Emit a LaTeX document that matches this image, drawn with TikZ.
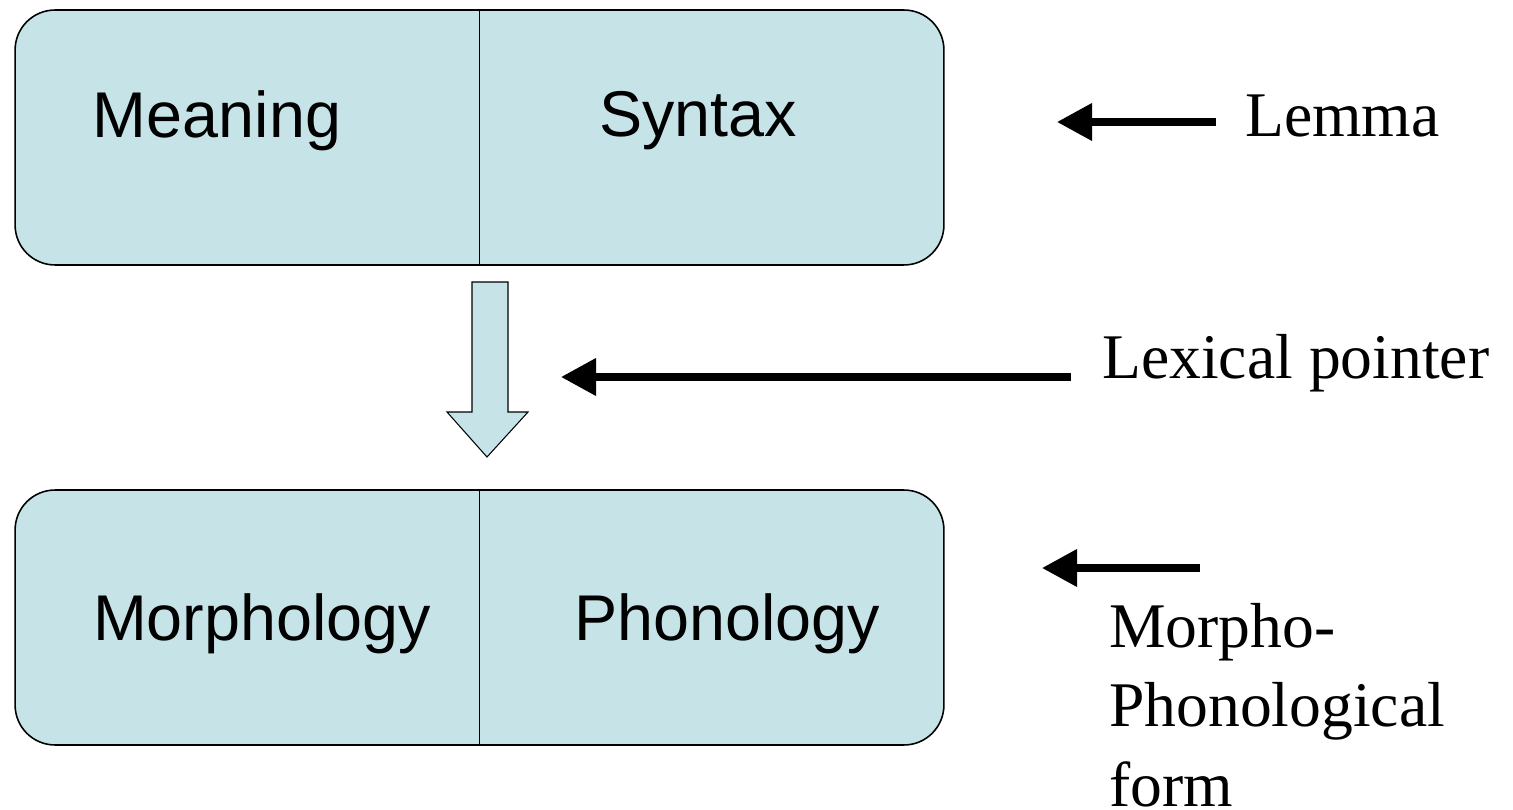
\documentclass[tikz,border=0pt]{standalone}
\usepackage{fontspec}
\setmainfont{Liberation Serif}
\setsansfont{Liberation Sans}
\usetikzlibrary{arrows.meta,positioning}
\definecolor{boxfill}{HTML}{C6E4E8}
\tikzset{
  entrybox/.style={draw,rounded corners=0.8cm,fill=boxfill,line width=0.9pt,
    minimum width=18.58cm,minimum height=5.1cm},
  fieldtext/.style={font=\sffamily\fontsize{36.8pt}{44pt}\selectfont,anchor=base,inner sep=0pt},
  tagtext/.style={font=\fontsize{36.2pt}{45pt}\selectfont,anchor=base west,inner sep=0pt,align=left},
  pointer/.style={-{Triangle[length=0.7cm,width=0.72cm]},line width=4pt}
}

\begin{document}
\begin{tikzpicture}[x=0.02cm,y=-0.02cm]
  \useasboundingbox (0,0) rectangle (1513,810);
  % the two halves of the entry
  \node[entrybox] (lemmabox) at (479.5,137.5) {};
  \node[entrybox] (formbox) at (479.5,617.5) {};
  \draw[line width=0.6pt] (lemmabox.north) -- (lemmabox.south);
  \draw[line width=0.6pt] (formbox.north) -- (formbox.south);
  \node[fieldtext] (meaning) at (217,138) {Meaning};
  \node[fieldtext] (syntax) at (698,137) {Syntax};
  \node[fieldtext] (morph) at (262,640) {Morphology};
  \node[fieldtext] (phon) at (727,640) {Phonology};
  % block arrow between the boxes
  \draw[line width=0.6pt,fill=boxfill] (472,282) -- (508,282) -- (508,412) -- (528,412)
    -- (487,457) -- (447,412) -- (472,412) -- cycle;
  % labels on the right
  \node[tagtext] (lemma) at (1245,137) {Lemma};
  \node[tagtext] (pointer) at (1102,378) {Lexical pointer};
  \node[tagtext] (mpform) at (1109,806) {Morpho-\\Phonological\\form};
  \coordinate (lemmatail) at (1216,122);
  \coordinate (lemmatip) at (1057,122);
  \coordinate (pointertail) at (1071,377);
  \coordinate (pointertip) at (561,377);
  \coordinate (mptail) at (1200,568);
  \coordinate (mptip) at (1042,568);
  \draw[pointer] (lemmatail) -- (lemmatip);
  \draw[pointer] (pointertail) -- (pointertip);
  \draw[pointer] (mptail) -- (mptip);
\end{tikzpicture}
\end{document}
